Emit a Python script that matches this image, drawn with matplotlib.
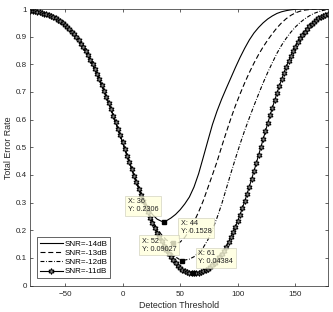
import numpy as np
import matplotlib.pyplot as plt

plt.rcParams['font.family'] = ['Liberation Sans', 'DejaVu Sans']

# threshold grids (markers every 2, plain lines every 4)
thr_mark = np.arange(-80, 179, 2)
thr_line = np.arange(-78, 179, 4)

# left part shared by all curves (x = -78 .. -2)
ter_common = [0.9926, 0.9897, 0.9859, 0.9808, 0.9743, 0.9660, 0.9556, 0.9429, 0.9274, 0.9089,
              0.8872, 0.8619, 0.8330, 0.8006, 0.7645, 0.7251, 0.6826, 0.6380, 0.5910, 0.5426]

# x = 2 .. 178
ter_14_tail = [0.4945, 0.4461, 0.3991, 0.3553, 0.3154, 0.2817, 0.2565, 0.2400, 0.2320, 0.2340,
               0.2440, 0.2570, 0.2740, 0.2950, 0.3200, 0.3560, 0.4040, 0.4630, 0.5230, 0.5820,
               0.6310, 0.6740, 0.7130, 0.7510, 0.7890, 0.8250, 0.8580, 0.8880, 0.9130, 0.9330,
               0.9500, 0.9640, 0.9750, 0.9840, 0.9900, 0.9940, 0.9970, 0.9990, 1.0, 1.0,
               1.0, 1.0, 1.0, 1.0, 1.0]
ter_13_tail = [0.4940, 0.4451, 0.3975, 0.3518, 0.3084, 0.2687, 0.2345, 0.2050, 0.1830, 0.1650,
               0.1550, 0.1520, 0.1570, 0.1740, 0.1980, 0.2300, 0.2660, 0.3060, 0.3530, 0.4000,
               0.4480, 0.5020, 0.5540, 0.6040, 0.6510, 0.6930, 0.7330, 0.7700, 0.8040, 0.8350,
               0.8630, 0.8880, 0.9110, 0.9320, 0.9500, 0.9650, 0.9770, 0.9860, 0.9920, 0.9960,
               0.9980, 0.9990, 1.0, 1.0, 1.0]
ter_12_tail = [0.4940, 0.4451, 0.3971, 0.3508, 0.3069, 0.2657, 0.2285, 0.1950, 0.1660, 0.1400,
               0.1190, 0.1035, 0.0925, 0.0920, 0.0955, 0.1040, 0.1180, 0.1370, 0.1650, 0.2020,
               0.2450, 0.2940, 0.3500, 0.4060, 0.4600, 0.5120, 0.5610, 0.6060, 0.6500, 0.6920,
               0.7330, 0.7710, 0.8060, 0.8400, 0.8690, 0.8940, 0.9160, 0.9350, 0.9510, 0.9640,
               0.9750, 0.9840, 0.9900, 0.9950, 0.9980]

# SNR=-11dB on the fine grid (x = -80 .. 178)
ter_11 = [0.9938, 0.9926, 0.9913, 0.9897, 0.9879, 0.9859, 0.9835, 0.9808, 0.9777, 0.9743,
          0.9704, 0.9660, 0.9611, 0.9556, 0.9496, 0.9429, 0.9355, 0.9274, 0.9186, 0.9089,
          0.8985, 0.8872, 0.8749, 0.8619, 0.8480, 0.8330, 0.8172, 0.8006, 0.7829, 0.7645,
          0.7454, 0.7251, 0.7044, 0.6826, 0.6606, 0.6380, 0.6145, 0.5910, 0.5671, 0.5426,
          0.5183, 0.4940, 0.4693, 0.4451, 0.4211, 0.3971, 0.3737, 0.3508, 0.3282, 0.3064,
          0.2853, 0.2647, 0.2452, 0.2265, 0.2084, 0.1915, 0.1756, 0.1598, 0.1440, 0.1293,
          0.1157, 0.1031, 0.0917, 0.0814, 0.0722, 0.0642, 0.0578, 0.0527, 0.0488, 0.0460,
          0.0445, 0.0440, 0.0446, 0.0462, 0.0487, 0.0520, 0.0561, 0.0610, 0.0668, 0.0737,
          0.0818, 0.0911, 0.1016, 0.1134, 0.1265, 0.1410, 0.1568, 0.1740, 0.1925, 0.2123,
          0.2335, 0.2560, 0.2796, 0.3044, 0.3302, 0.3572, 0.3848, 0.4129, 0.4416, 0.4709,
          0.5000, 0.5291, 0.5584, 0.5871, 0.6152, 0.6428, 0.6700, 0.6960, 0.7211, 0.7451,
          0.7682, 0.7899, 0.8103, 0.8295, 0.8475, 0.8641, 0.8794, 0.8934, 0.9064, 0.9180,
          0.9285, 0.9380, 0.9465, 0.9540, 0.9606, 0.9665, 0.9716, 0.9760, 0.9799, 0.9832]

labels = ['SNR=-14dB', 'SNR=-13dB', 'SNR=-12dB', 'SNR=-11dB']

# data tips (minimum of each curve)
tip_x = [36, 44, 52, 61]
tip_y = [0.2306, 0.1528, 0.09027, 0.04384]

ter_14 = ter_common + ter_14_tail
ter_13 = ter_common + ter_13_tail
ter_12 = ter_common + ter_12_tail

fig = plt.figure(figsize=(3.33, 3.12), dpi=100)
ax = fig.add_axes([30.3 / 333, 26.5 / 312, 297.4 / 333, 276.5 / 312])

lw = 0.8
ax.plot(thr_line, ter_14, color='k', lw=lw, label=labels[0])
ax.plot(thr_line, ter_13, color='k', lw=lw, dashes=(4.5, 2.5), label=labels[1])
ax.plot(thr_line, ter_12, color='k', lw=lw, dashes=(3.5, 1.5, 0.7, 1.5), label=labels[2])
ax.plot(thr_mark, ter_11, color='k', lw=lw, marker=(6, 1, 0), ms=4.2,
        mfc='#888888', mec='k', mew=0.7, label=labels[3])

# data tip markers and boxes
ax.plot(tip_x, tip_y, ls='none', marker='s', ms=3.4, color='k', zorder=5)
offsets = [(-4.2, 6.2, 'right'), (5.3, 5.8, 'left'), (-4.2, 5.5, 'right'), (3.9, 5.8, 'left')]
for (tx, ty), (dx, dy, ha) in zip(zip(tip_x, tip_y), offsets):
    ax.annotate('X: %g\nY: %g' % (tx, ty), xy=(tx, ty), xytext=(dx, dy),
                textcoords='offset points', ha=ha, va='bottom', fontsize=5.2,
                color='#222222', multialignment='left', zorder=6,
                bbox=dict(boxstyle='square,pad=0.35', fc='#ffffdc', ec='#c8c8b4',
                          lw=0.5, alpha=0.8))

ax.set_xlim(-80, 178)
ax.set_ylim(0, 1)
ax.set_xticks([-50, 0, 50, 100, 150])
ax.set_yticks(np.arange(0, 1.01, 0.1))
ax.yaxis.set_major_formatter(plt.FuncFormatter(lambda v, p: '%g' % round(v, 1)))

ax.set_xlabel('Detection Threshold', fontsize=6.4, color='#262626', labelpad=2)
ax.set_ylabel('Total Error Rate', fontsize=6.4, color='#262626', labelpad=2)

ax.tick_params(direction='in', top=True, right=True, length=2.2, width=0.5,
               labelsize=5.8, colors='#262626')
ax.tick_params(axis='x', pad=4)
ax.tick_params(axis='y', pad=2.5)
for s in ax.spines.values():
    s.set_linewidth(0.5)
    s.set_color('#262626')

leg = ax.legend(loc='lower left', bbox_to_anchor=(0.0235, 0.026), borderaxespad=0,
                fontsize=5.8, handlelength=2.8, handletextpad=0.25, labelspacing=0.2,
                borderpad=0.35, fancybox=False, framealpha=1, numpoints=1)
leg.get_frame().set_edgecolor('#262626')
leg.get_frame().set_linewidth(0.5)

fig.savefig('out.png', dpi=100)
